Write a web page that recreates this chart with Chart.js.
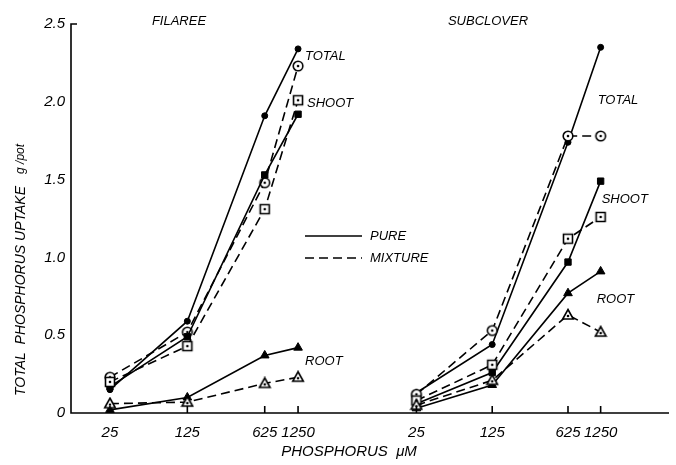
<!DOCTYPE html>
<html>
<head>
<meta charset="utf-8">
<script src="https://cdn.jsdelivr.net/npm/chart.js@4.4.1/dist/chart.umd.min.js"></script>
<style>
  html, body { margin: 0; padding: 0; background: #fff; }
  canvas { display: block; }
</style>
</head>
<body>
<canvas id="chart" width="676" height="465"></canvas>
<script>
// phosphorus supply (uM), same for both species
const phosphorus = [25, 125, 625, 1250];
const yTicks = [0, 0.5, 1.0, 1.5, 2.0, 2.5];

// Filaree, g/pot
const filTotalPure = [0.15, 0.59, 1.91, 2.34];
const filTotalMix  = [0.23, 0.52, 1.48, 2.23];
const filShootPure = [0.17, 0.49, 1.53, 1.92];
const filShootMix  = [0.20, 0.43, 1.31, 2.01];
const filRootPure  = [0.02, 0.10, 0.37, 0.42];
const filRootMix   = [0.06, 0.07, 0.19, 0.23];

// Subclover, g/pot
const subTotalPure = [0.13, 0.44, 1.74, 2.35];
const subTotalMix  = [0.12, 0.53, 1.78, 1.78];
const subShootPure = [0.06, 0.26, 0.97, 1.49];
const subShootMix  = [0.08, 0.31, 1.12, 1.26];
const subRootPure  = [0.03, 0.18, 0.77, 0.91];
const subRootMix   = [0.05, 0.21, 0.63, 0.52];

const FONT = "'Liberation Sans', Arial, sans-serif";

// open markers with a dot in the middle (mixture)
function marker(kind) {
    const c = document.createElement('canvas');
    c.width = 14; c.height = 14;
    const g = c.getContext('2d');
    g.lineWidth = 1.6;
    g.strokeStyle = '#000';
    g.fillStyle = '#fff';
    g.beginPath();
    let dotY = 7;
    if (kind === 'circle') {
        g.arc(7, 7, 4.8, 0, Math.PI * 2);
    } else if (kind === 'square') {
        g.rect(2.5, 2.5, 9, 9);
    } else {
        g.moveTo(7, 1.5);
        g.lineTo(12.3, 11);
        g.lineTo(1.7, 11);
        g.closePath();
        dotY = 8;
    }
    g.fill();
    g.stroke();
    g.fillStyle = '#000';
    g.beginPath();
    g.arc(7, dotY, 1.3, 0, Math.PI * 2);
    g.fill();
    return c;
}
const openCircle = marker('circle');
const openSquare = marker('square');
const openTriangle = marker('triangle');

function series(values, axis, mixture, style, radius) {
    return {
        data: phosphorus.map((p, i) => ({ x: p, y: values[i] })),
        xAxisID: axis,
        borderColor: '#000',
        backgroundColor: mixture ? '#fff' : '#000',
        borderWidth: 1.6,
        borderDash: mixture ? [9, 5] : [],
        pointStyle: style,
        pointRadius: radius,
        pointHoverRadius: radius,
        pointBorderWidth: 1,
        pointBackgroundColor: '#000',
        pointBorderColor: '#000',
        tension: 0
    };
}

const datasets = [
    series(filRootMix, 'xF', true, openTriangle, 6),
    series(filRootPure, 'xF', false, 'triangle', 5),
    series(filShootMix, 'xF', true, openSquare, 6),
    series(filShootPure, 'xF', false, 'rect', 4.5),
    series(filTotalMix, 'xF', true, openCircle, 6),
    series(filTotalPure, 'xF', false, 'circle', 3),
    series(subRootMix, 'xS', true, openTriangle, 6),
    series(subRootPure, 'xS', false, 'triangle', 5),
    series(subShootMix, 'xS', true, openSquare, 6),
    series(subShootPure, 'xS', false, 'rect', 4.5),
    series(subTotalMix, 'xS', true, openCircle, 6),
    series(subTotalPure, 'xS', false, 'circle', 3)
];

// curve labels anchored in data space
const curveLabels = [
    { text: 'TOTAL', axis: 'xF', x: 1250, y: 2.29, dx: 7 },
    { text: 'SHOOT', axis: 'xF', x: 1250, y: 1.99, dx: 9 },
    { text: 'ROOT', axis: 'xF', x: 1250, y: 0.33, dx: 7 },
    { text: 'TOTAL', axis: 'xS', x: 1250, y: 2.01, dx: -3 },
    { text: 'SHOOT', axis: 'xS', x: 1250, y: 1.37, dx: 1 },
    { text: 'ROOT', axis: 'xS', x: 1250, y: 0.73, dx: -4 }
];

const extras = {
    id: 'extras',
    afterDraw(chart) {
        const ctx = chart.ctx;
        const area = chart.chartArea;
        const y = chart.scales.y;
        const xF = chart.scales.xF;
        const xS = chart.scales.xS;
        ctx.save();
        ctx.strokeStyle = '#000';
        ctx.fillStyle = '#000';
        ctx.lineWidth = 1.6;

        // axis lines
        ctx.beginPath();
        ctx.moveTo(area.left + 6, area.top);
        ctx.lineTo(area.left, area.top);
        ctx.lineTo(area.left, area.bottom);
        ctx.lineTo(area.right, area.bottom);
        ctx.stroke();

        // inward tick marks on the x axis
        [xF, xS].forEach(s => {
            s.ticks.forEach(t => {
                const px = s.getPixelForValue(t.value);
                ctx.beginPath();
                ctx.moveTo(px, s.top);
                ctx.lineTo(px, s.top - 7);
                ctx.stroke();
            });
        });

        // panel titles
        ctx.font = 'italic 13px ' + FONT;
        ctx.textBaseline = 'middle';
        ctx.textAlign = 'center';
        ctx.fillText('FILAREE', 179, 21);
        ctx.fillText('SUBCLOVER', 488, 21);

        // curve labels
        ctx.textAlign = 'left';
        curveLabels.forEach(l => {
            const s = chart.scales[l.axis];
            ctx.fillText(l.text, s.getPixelForValue(l.x) + l.dx, y.getPixelForValue(l.y));
        });

        // legend
        ctx.lineWidth = 1.6;
        ctx.beginPath();
        ctx.moveTo(305, 236);
        ctx.lineTo(362, 236);
        ctx.stroke();
        ctx.setLineDash([9, 5]);
        ctx.beginPath();
        ctx.moveTo(305, 258);
        ctx.lineTo(362, 258);
        ctx.stroke();
        ctx.setLineDash([]);
        ctx.fillText('PURE', 370, 236);
        ctx.fillText('MIXTURE', 370, 258);

        // axis titles
        ctx.font = 'italic 15px ' + FONT;
        ctx.textAlign = 'center';
        ctx.fillText('PHOSPHORUS  \u03bcM', 349, 452);

        ctx.translate(21, 396);
        ctx.rotate(-Math.PI / 2);
        ctx.textAlign = 'left';
        ctx.font = 'italic 14px ' + FONT;
        const main = 'TOTAL  PHOSPHORUS UPTAKE';
        ctx.fillText(main, 0, 0);
        const w = ctx.measureText(main).width;
        ctx.font = 'italic 12px ' + FONT;
        ctx.fillText('g /pot', w + 12, 0);
        ctx.restore();
    }
};

function xAxis(min, max) {
    return {
        type: 'logarithmic',
        position: 'bottom',
        stack: 'phos',
        stackWeight: 1,
        min: min,
        max: max,
        grid: { display: false, drawTicks: false },
        border: { display: false },
        afterBuildTicks: s => { s.ticks = phosphorus.map(v => ({ value: v })); },
        afterFit: s => { s.height = 52; },
        ticks: {
            autoSkip: false, maxRotation: 0, padding: 11, color: '#000',
            font: { family: FONT, size: 15, style: 'italic' },
            callback: v => String(v)
        }
    };
}

const ctx = document.getElementById('chart').getContext('2d');
const phosphorusChart = new Chart(ctx, {
    type: 'line',
    data: { datasets: datasets },
    plugins: [extras],
    options: {
        responsive: false,
        animation: false,
        devicePixelRatio: 1,
        layout: { padding: { top: 24, right: 6, bottom: 0, left: 0 } },
        plugins: { legend: { display: false }, tooltip: { enabled: false } },
        scales: {
            xF: xAxis(11.12, 5581),
            xS: xAxis(9.325, 5339),
            y: {
                type: 'linear',
                min: 0,
                max: 2.5,
                grid: { display: false, drawTicks: false },
                border: { display: false },
                afterBuildTicks: s => { s.ticks = yTicks.map(v => ({ value: v })); },
                afterFit: s => { s.width = 71; },
                ticks: {
                    padding: 6, color: '#000',
                    font: { family: FONT, size: 15, style: 'italic' },
                    callback: v => (v === 0 ? '0' : v.toFixed(1))
                }
            }
        }
    }
});
</script>
</body>
</html>
